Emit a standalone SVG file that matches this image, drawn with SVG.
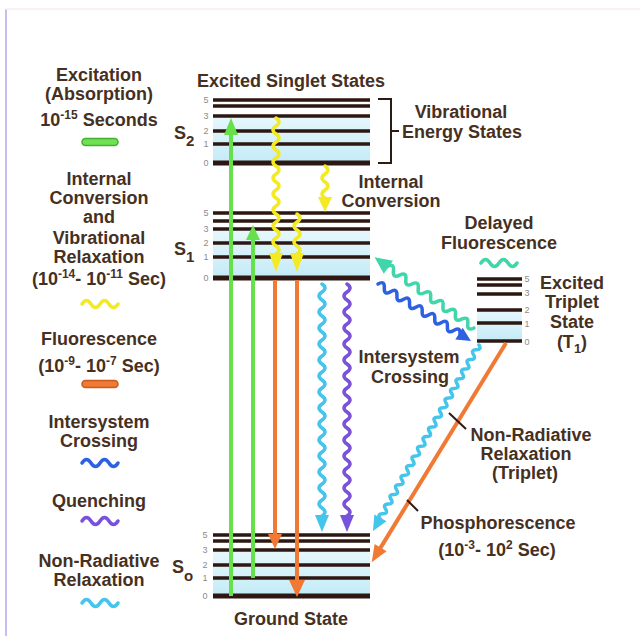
<svg xmlns="http://www.w3.org/2000/svg" width="640" height="636" viewBox="0 0 640 636">
<defs>
<linearGradient id="band" x1="0" y1="0" x2="0" y2="1">
<stop offset="0" stop-color="#e6f7fc"/>
<stop offset="1" stop-color="#c4ebf7"/>
</linearGradient>
<style>
text{font-family:"Liberation Sans",Arial,sans-serif;font-weight:bold;font-size:18px;fill:#46301f}
.m{text-anchor:middle}
.num{font-size:9px;font-weight:normal;fill:#8a8a8a;text-anchor:middle}
.lv{stroke:#2d1712;stroke-width:3.4;fill:none}
.lv0{stroke:#2d1712;stroke-width:5;fill:none}
.band{fill:url(#band)}
.w{fill:none;stroke-width:3.5;stroke-linecap:round;stroke-linejoin:round}
.s{stroke-width:4;fill:none}
.green{stroke:#68e04c}.gf{fill:#68e04c}
.yel{stroke:#f3ea24}.yf{fill:#f3ea24}
.org{stroke:#f07a34}.of{fill:#f07a34}
.cy{stroke:#45c4ec}.cf{fill:#45c4ec}
.pu{stroke:#7752da}.pf{fill:#7752da}
.bl{stroke:#2e60e2}.bf{fill:#2e60e2}
.tl{stroke:#3fd6aa}.tf{fill:#3fd6aa}
.tick{stroke:#2d1a12;stroke-width:2;fill:none}
</style>
</defs>
<rect width="640" height="636" fill="#ffffff"/>
<line x1="6" y1="9" x2="6" y2="636" stroke="#cbbcf0" stroke-width="2"/>
<line x1="6" y1="9" x2="640" y2="9" stroke="#f8f0f2" stroke-width="2"/>

<g id="legend">
<g id="leg-excitation">
<text class="m" x="99" y="81">Excitation</text>
<text class="m" x="99" y="100">(Absorption)</text>
<text class="m" x="99" y="126">10<tspan dy="-7" font-size="12">-15</tspan><tspan dy="7"> Seconds</tspan></text>
<rect x="82" y="138.5" width="36" height="7" rx="3.5" fill="#70e055" stroke="#44b030" stroke-width="1.5"/>
</g>
<g id="leg-ic">
<text class="m" x="99" y="185">Internal</text>
<text class="m" x="99" y="204">Conversion</text>
<text class="m" x="99" y="223">and</text>
<text class="m" x="99" y="244">Vibrational</text>
<text class="m" x="99" y="263">Relaxation</text>
<text class="m" x="99" y="285">(10<tspan dy="-7" font-size="12">-14</tspan><tspan dy="7">- 10</tspan><tspan dy="-7" font-size="12">-11</tspan><tspan dy="7"> Sec)</tspan></text>
<path class="w yel" d="M82,304 q4.5,-7 9,0 t9,0 t9,0 t9,0"/>
</g>
<g id="leg-fluor">
<text class="m" x="99" y="345">Fluorescence</text>
<text class="m" x="99" y="372">(10<tspan dy="-7" font-size="12">-9</tspan><tspan dy="7">- 10</tspan><tspan dy="-7" font-size="12">-7</tspan><tspan dy="7"> Sec)</tspan></text>
<rect x="82" y="380.5" width="36" height="7" rx="3.5" fill="#f07a34" stroke="#c85a20" stroke-width="1.5"/>
</g>
<g id="leg-isc">
<text class="m" x="99" y="428">Intersystem</text>
<text class="m" x="99" y="447">Crossing</text>
<path class="w bl" d="M82,463 q4.5,-7 9,0 t9,0 t9,0 t9,0"/>
</g>
<g id="leg-quench">
<text class="m" x="99" y="507">Quenching</text>
<path class="w pu" d="M82,521 q4.5,-7 9,0 t9,0 t9,0 t9,0"/>
</g>
<g id="leg-nonrad">
<text class="m" x="99" y="567">Non-Radiative</text>
<text class="m" x="99" y="586">Relaxation</text>
<path class="w cy" d="M82,603 q4.5,-7 9,0 t9,0 t9,0 t9,0"/>
</g>
</g>

<g id="S2">
<rect class="band" x="213" y="117" width="157" height="46"/>
<path class="lv" d="M213,100H370M213,106H370M213,116H370M213,131H370M213,144H370"/>
<path class="lv0" d="M213,163H370"/>
<text class="num" x="206" y="103">5</text><text class="num" x="206" y="119">3</text><text class="num" x="206" y="134">2</text><text class="num" x="206" y="147">1</text><text class="num" x="206" y="166">0</text>
<text x="174" y="139" font-size="20">S<tspan dy="7" font-size="15">2</tspan></text>
<text class="m" x="291" y="87">Excited Singlet States</text>
<path class="tick" d="M378,99H391V163H378M391,131H399"/>
<text class="m" x="461" y="118">Vibrational</text>
<text class="m" x="462" y="138">Energy States</text>
</g>

<g id="S1">
<rect class="band" x="213" y="230" width="157" height="48"/>
<path class="lv" d="M213,213H370M213,221H370M213,229H370M213,243H370M213,257H370"/>
<path class="lv0" d="M213,278H370"/>
<text class="num" x="206" y="216">5</text><text class="num" x="206" y="232">3</text><text class="num" x="206" y="246">2</text><text class="num" x="206" y="260">1</text><text class="num" x="206" y="281">0</text>
<text x="174" y="255" font-size="20">S<tspan dy="7" font-size="15">1</tspan></text>
<text class="m" x="391" y="188">Internal</text>
<text class="m" x="391" y="207">Conversion</text>
</g>

<g id="S0">
<rect class="band" x="213" y="551" width="157" height="45"/>
<path class="lv" d="M213,535H370M213,541H370M213,550H370M213,565H370M213,578H370"/>
<path class="lv0" d="M213,596H370"/>
<text class="num" x="205" y="538">5</text><text class="num" x="205" y="553">3</text><text class="num" x="205" y="568">2</text><text class="num" x="205" y="581">1</text><text class="num" x="205" y="599">0</text>
<text x="172" y="573" font-size="20">S<tspan dy="8" font-size="15">o</tspan></text>
<text class="m" x="291" y="625">Ground State</text>
</g>

<g id="T1">
<rect class="band" x="477" y="311" width="45" height="30"/>
<path class="lv" d="M477,279H522M477,285H522M477,294H522M477,310H522M477,323H522"/>
<path class="lv" d="M477,341H522"/>
<text class="num" x="527" y="282">5</text><text class="num" x="527" y="296">3</text><text class="num" x="527" y="313">2</text><text class="num" x="527" y="327">1</text><text class="num" x="527" y="345">0</text>
<text class="m" x="572" y="289">Excited</text>
<text class="m" x="572" y="308">Triplet</text>
<text class="m" x="572" y="328">State</text>
<text class="m" x="572" y="348">(T<tspan dy="5" font-size="13">1</tspan><tspan dy="-5">)</tspan></text>
<text class="m" x="499" y="229">Delayed</text>
<text class="m" x="499" y="249">Fluorescence</text>
<path class="w tl" d="M481,263 q4.5,-7 9,0 t9,0 t9,0 t9,0"/>
</g>

<g id="labels">
<text class="m" x="409" y="363">Intersystem</text>
<text class="m" x="410" y="383">Crossing</text>
<text class="m" x="531" y="441">Non-Radiative</text>
<text class="m" x="526" y="460">Relaxation</text>
<text class="m" x="525" y="479">(Triplet)</text>
<text class="m" x="498" y="529">Phosphorescence</text>
<text class="m" x="497" y="556">(10<tspan dy="-7" font-size="12">-3</tspan><tspan dy="7">- 10</tspan><tspan dy="-7" font-size="12">2</tspan><tspan dy="7"> Sec)</tspan></text>
</g>

<g id="connectors">
<line class="s green" x1="231" y1="596" x2="231" y2="132"/>
<polygon class="gf" points="224,135 238,135 231,118"/>
<line class="s green" x1="253" y1="578" x2="253" y2="238"/>
<polygon class="gf" points="246,240 260,240 253,225"/>
<path class="w yel" d="M276,118 q6,4 0,8 t0,8 t0,8 t0,8 t0,8 t0,8 t0,8 t0,8 t0,8 t0,8 t0,8 t0,8 t0,8 t0,8 t0,8 t0,8 t0,8"/>
<polygon class="yf" points="269,253 283,253 276,272"/>
<path class="w yel" d="M297,214 q6,4 0,8 t0,8 t0,8 t0,8 t0,8"/>
<polygon class="yf" points="290,253 304,253 297,272"/>
<path class="w yel" d="M325,166 q6,4 0,8 t0,8 t0,8 t0,8"/>
<polygon class="yf" points="318,197 332,197 325,212"/>
<line class="s org" x1="275" y1="280" x2="275" y2="536"/>
<polygon class="of" points="268,534 282,534 275,549"/>
<line class="s org" x1="297" y1="280" x2="297" y2="582"/>
<polygon class="of" points="289,580 305,580 297,597"/>
<path class="w cy" d="M322,284 q6,4 0,8 t0,8 t0,8 t0,8 t0,8 t0,8 t0,8 t0,8 t0,8 t0,8 t0,8 t0,8 t0,8 t0,8 t0,8 t0,8 t0,8 t0,8 t0,8 t0,8 t0,8 t0,8 t0,8 t0,8 t0,8 t0,8 t0,8 t0,8 t0,8"/>
<polygon class="cf" points="315,515 329,515 322,532"/>
<path class="w pu" d="M347,284 q6,4 0,8 t0,8 t0,8 t0,8 t0,8 t0,8 t0,8 t0,8 t0,8 t0,8 t0,8 t0,8 t0,8 t0,8 t0,8 t0,8 t0,8 t0,8 t0,8 t0,8 t0,8 t0,8 t0,8 t0,8 t0,8 t0,8 t0,8 t0,8 t0,8"/>
<polygon class="pf" points="340,515 354,515 347,532"/>
<g transform="translate(474,328) rotate(215.4)">
<path class="w tl" d="M0,0 q3.8,-7 7.6,0 t7.6,0 t7.6,0 t7.6,0 t7.6,0 t7.6,0 t7.6,0 t7.6,0 t7.6,0 t7.6,0 t7.6,0 t7.6,0 t7.6,0 t7.6,0"/>
<polygon class="tf" points="105,-8 105,8 122,0"/>
</g>
<g transform="translate(378,284) rotate(31.5)">
<path class="w bl" d="M0,0 q3.7,-7 7.4,0 t7.4,0 t7.4,0 t7.4,0 t7.4,0 t7.4,0 t7.4,0 t7.4,0 t7.4,0 t7.4,0 t7.4,0 t7.4,0 t7.4,0"/>
<polygon class="bf" points="95,-7 95,7 109,0"/>
</g>
<g transform="translate(479,345) rotate(119.7)">
<path class="w cy" d="M0,0 q2.775,-5 5.55,0 t5.55,0 t5.55,0 t5.55,0 t5.55,0 t5.55,0 t5.55,0 t5.55,0 t5.55,0 t5.55,0 t5.55,0 t5.55,0 t5.55,0 t5.55,0 t5.55,0 t5.55,0 t5.55,0 t5.55,0 t5.55,0 t5.55,0 t5.55,0 t5.55,0 t5.55,0 t5.55,0 t5.55,0 t5.55,0 t5.55,0 t5.55,0 t5.55,0 t5.55,0 t5.55,0 t5.55,0 t5.55,0 t5.55,0 t5.55,0 t5.55,0"/>
<polygon class="cf" points="199,-7 199,7 214,0"/>
</g>
<g transform="translate(506,343) rotate(121.5)">
<line class="s org" x1="0" y1="0" x2="242" y2="0"/>
<polygon class="of" points="240,-7 240,7 257,0"/>
</g>
<line class="tick" x1="449" y1="413" x2="466" y2="429"/>
<line class="tick" x1="407" y1="500" x2="418" y2="511"/>
</g>
</svg>
